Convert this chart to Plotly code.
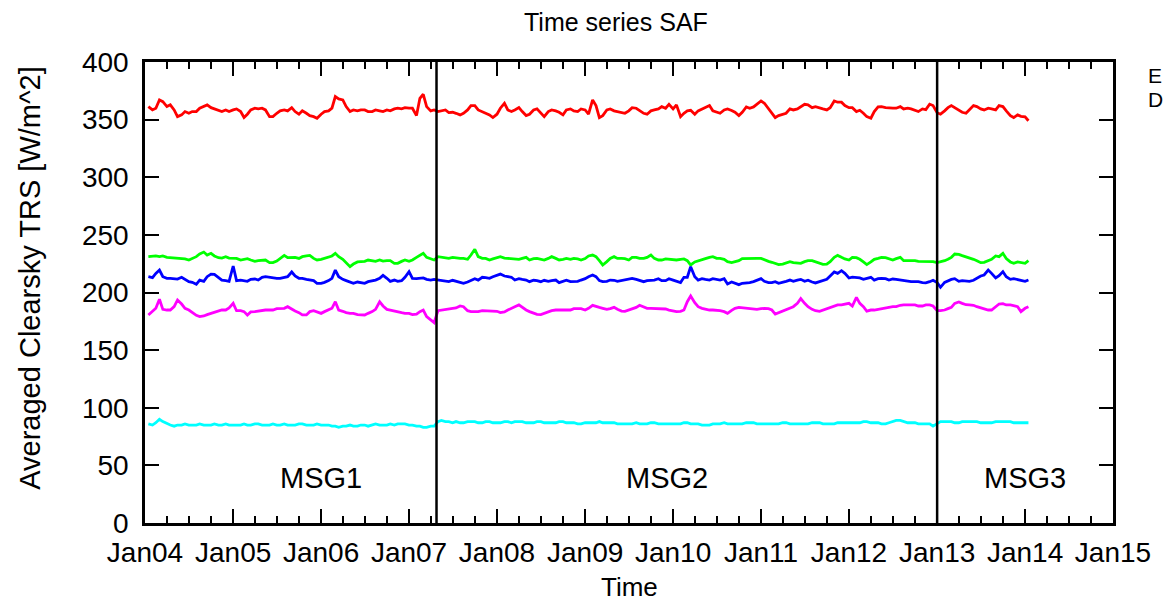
import plotly.graph_objects as go
import datetime as dt

# ---------------- data (semi-monthly samples, 1st/15th, starting 2004-01-15) -------------
red_vals = [
    361.3,358.4,359.9,367.1,365.6,361.3,362.8,358.4,352.6,354.1,357.0,355.5,357.0,357.0,359.9,361.3,362.8,360.4,359.3,357.6,357.0,358.4,357.0,358.4,
    359.3,357.0,351.8,354.7,358.4,359.9,359.3,359.9,358.4,352.6,352.6,355.5,357.6,358.4,357.6,360.4,357.0,354.7,357.6,355.5,353.5,352.6,351.2,354.7,
    357.0,357.6,359.9,370.0,368.0,367.1,361.3,357.0,358.4,357.6,358.4,358.4,357.0,357.0,358.4,357.6,357.0,358.4,357.6,359.3,359.9,359.3,360.4,359.9,
    359.9,353.5,368.5,372.0,361.3,357.6,358.4,357.0,357.6,358.4,356.1,356.4,355.5,354.1,355.5,358.4,362.2,362.2,358.4,357.0,356.1,354.1,351.8,354.7,
    359.9,364.2,358.4,357.0,358.4,360.4,357.0,353.5,354.7,358.4,359.3,355.5,352.6,357.0,358.4,357.6,356.4,354.1,358.4,359.3,357.6,357.0,359.3,358.4,
    354.7,367.1,362.2,351.8,353.5,358.4,359.3,357.6,357.0,356.1,355.5,357.6,360.4,359.9,357.6,355.5,354.7,357.6,358.4,359.3,361.3,359.9,363.3,359.3,
    362.8,352.6,355.5,357.6,358.1,354.7,357.6,359.3,360.4,362.2,357.6,356.4,355.5,358.4,359.3,357.9,356.4,353.5,356.4,361.0,359.9,361.0,363.3,366.2,
    364.2,359.9,355.5,351.8,353.5,354.7,355.5,359.3,358.4,359.3,361.3,363.3,362.8,360.4,361.3,359.9,359.3,358.4,360.4,366.2,365.1,365.1,362.2,360.4,
    360.4,357.0,358.1,355.5,352.6,351.2,357.0,361.0,361.3,360.4,359.9,359.9,359.9,361.3,359.3,359.9,359.3,358.1,357.0,359.3,358.7,363.3,362.2,356.0,
    354.7,357.6,360.4,362.2,360.4,357.6,356.4,355.5,358.4,362.2,361.3,359.3,358.4,359.9,359.3,358.4,362.2,361.3,357.6,353.5,351.8,354.1,352.9,352.4,
    349.0,
]
green_vals = [
    231.1,231.7,231.7,231.1,231.7,230.5,230.2,230.5,229.6,229.6,229.1,228.2,229.4,231.1,233.4,235.1,232.5,234.0,231.7,230.2,229.9,231.1,229.9,229.6,
    229.6,228.2,229.1,229.4,228.2,227.0,227.6,228.2,228.2,225.9,225.9,227.3,229.6,232.2,230.2,230.5,230.5,229.6,231.1,231.7,232.2,229.6,228.2,228.8,
    229.6,230.5,231.7,234.0,231.1,228.8,225.9,222.4,224.7,226.5,226.8,227.0,228.2,227.3,227.0,228.2,227.3,227.6,227.6,225.3,225.3,227.0,228.2,227.0,
    228.2,230.5,232.5,234.0,230.5,229.1,228.2,231.1,230.5,230.2,229.6,230.5,229.9,229.6,229.6,228.8,232.5,237.5,231.1,229.6,229.6,228.2,229.1,230.2,
    231.1,229.9,229.6,229.6,229.6,228.8,229.6,230.5,228.2,229.4,229.6,228.8,228.2,229.6,231.1,229.6,228.2,228.8,229.6,228.8,229.6,229.1,228.2,229.4,
    231.7,232.5,231.1,227.6,223.9,226.8,229.6,231.1,229.6,229.6,229.4,228.2,230.5,230.5,229.6,229.6,230.5,232.5,229.6,228.2,228.2,229.1,228.8,228.2,
    228.2,228.8,229.1,227.6,223.9,226.5,227.6,228.2,229.4,230.5,231.1,229.6,229.6,228.8,226.8,225.9,226.8,227.6,229.4,229.6,229.6,229.6,229.6,229.6,
    228.2,227.0,226.2,225.3,224.2,224.7,225.9,226.8,225.9,225.3,225.3,226.8,227.6,227.6,226.5,225.3,224.4,224.7,226.8,230.5,232.2,230.5,229.1,228.2,
    230.5,230.2,228.8,226.5,224.2,226.5,228.8,229.6,230.5,230.2,229.4,228.2,229.4,230.5,227.6,227.6,228.2,227.6,227.0,226.8,226.8,226.8,226.8,225.9,
    226.5,227.6,228.8,230.5,233.4,233.1,232.0,231.1,229.9,228.8,227.6,225.9,226.2,227.6,228.8,231.7,231.1,234.0,229.4,226.5,225.3,226.5,226.2,225.3,
    227.6,
]
blue_vals = [
    213.7,212.9,216.6,219.5,213.7,212.3,212.3,212.0,211.7,213.2,211.4,209.4,208.8,207.1,210.8,209.7,213.7,216.0,215.8,213.2,210.8,210.3,209.7,223.0,
    210.3,210.8,210.3,209.7,211.4,211.7,210.8,213.2,213.7,213.2,212.3,212.3,212.3,212.9,213.7,217.8,214.3,212.3,212.3,211.4,210.8,210.3,208.0,208.0,
    208.8,210.3,212.3,219.5,213.7,211.4,210.3,209.1,208.0,209.1,208.6,208.0,209.4,210.0,210.8,212.3,214.9,212.3,209.7,210.8,209.7,210.3,213.2,218.1,
    212.3,212.0,212.3,212.6,211.4,210.8,211.4,210.8,210.3,209.4,209.4,210.6,209.7,208.6,208.0,209.1,210.8,212.0,210.8,213.2,212.9,212.3,213.7,214.9,
    216.0,214.3,213.7,213.2,210.8,212.0,211.4,210.8,209.4,210.6,210.3,209.4,210.6,209.7,210.3,210.8,208.6,209.4,210.6,209.4,209.4,209.7,210.8,212.0,
    213.7,215.2,213.7,210.3,209.4,209.7,210.8,210.6,209.7,210.3,210.8,212.0,212.3,211.4,210.3,209.4,210.3,210.8,210.8,212.0,210.3,210.3,212.0,210.8,
    209.7,208.6,213.2,213.2,222.4,213.7,210.8,212.0,211.4,210.8,212.0,211.4,210.8,212.0,207.4,209.1,208.0,206.8,208.0,208.0,208.6,209.4,210.8,212.0,
    209.7,208.6,208.6,209.4,208.0,208.6,209.7,210.8,209.7,210.8,211.4,209.7,210.6,209.1,208.3,209.4,210.3,211.4,214.3,217.8,216.6,218.9,216.6,212.6,
    213.4,213.2,212.6,211.4,212.3,213.2,210.8,212.0,212.3,212.0,210.8,211.7,211.4,210.8,210.8,210.0,209.4,209.4,209.4,208.6,208.3,209.4,210.6,208.6,
    204.5,208.8,210.3,211.4,212.0,209.7,210.3,210.3,209.7,210.6,212.3,214.3,215.2,219.5,216.6,212.6,214.6,218.1,213.7,211.4,212.0,211.4,210.3,209.7,
    210.8,
]
magenta_vals = [
    180.5,183.4,186.3,194.1,185.4,184.8,184.8,187.7,193.5,190.0,186.3,184.8,182.5,180.2,179.1,179.6,180.8,181.9,183.1,183.9,184.8,184.8,186.6,190.6,
    184.2,184.2,183.4,180.5,183.1,183.4,183.9,184.8,184.8,184.8,184.8,186.0,186.3,186.3,187.7,185.4,183.9,182.5,180.5,180.5,183.4,184.2,183.4,181.9,
    183.4,184.8,186.3,192.0,184.8,183.7,182.5,181.9,181.9,180.8,180.5,180.5,181.9,183.4,185.4,192.0,188.3,185.4,184.8,184.2,183.4,182.5,181.9,181.9,
    180.8,181.3,183.4,184.8,179.1,176.2,173.8,184.2,184.8,185.4,186.0,186.3,186.6,188.3,187.7,184.2,183.4,183.4,183.4,184.2,184.2,183.7,184.2,183.7,
    182.5,183.1,184.8,186.0,187.7,189.2,187.1,184.8,183.4,181.9,181.0,180.8,181.9,183.1,184.2,184.8,184.8,184.8,184.8,184.8,186.0,186.3,186.0,184.8,
    186.3,188.9,188.3,187.1,186.3,185.4,186.0,187.1,185.4,183.9,183.7,184.8,186.0,187.1,188.9,187.7,186.3,186.3,186.3,186.3,186.3,185.7,184.8,183.7,
    183.4,183.7,184.8,192.0,197.0,191.2,187.7,186.3,185.4,184.8,184.8,184.8,184.2,183.4,181.9,184.5,186.3,187.1,186.8,186.3,186.3,186.3,185.4,186.0,
    186.3,186.0,184.8,181.3,182.5,183.9,184.8,186.0,187.7,190.6,194.7,190.6,187.7,185.4,184.2,183.7,184.8,186.0,187.1,188.0,189.2,189.2,189.7,190.6,
    188.3,195.8,190.6,187.7,183.9,184.8,184.8,185.4,186.3,186.3,187.1,187.7,187.7,188.9,189.2,189.2,189.2,189.2,188.3,188.3,189.2,189.2,188.3,184.2,
    184.2,184.8,186.0,187.1,190.6,191.8,190.6,189.4,189.2,188.9,187.7,186.6,185.4,184.8,184.8,187.7,190.0,190.3,189.2,189.2,188.6,187.7,183.4,186.3,
    187.7,
]
cyan_vals = [
    86,85,87,90,88,86,85,84,85,85,86,85,85,85,86,85,85,85,86,85,85,86,85,85,
    85,85,86,85,85,86,86,85,85,85,86,85,85,86,85,85,85,86,86,85,85,85,86,85,
    85,85,84,84,83,84,84,85,84,84,85,85,84,85,86,85,85,85,86,85,86,86,86,85,
    85,84,84,83,83,84,84,88,89,88,88,87,88,87,87,88,88,88,87,87,88,88,87,87,
    87,88,88,87,88,88,88,87,87,87,88,88,87,87,87,87,88,88,87,87,87,86,86,87,
    87,87,87,88,87,87,87,87,86,86,86,86,86,87,86,86,86,87,87,86,86,86,86,86,
    86,86,87,87,86,86,86,85,85,85,86,86,86,87,86,86,86,86,86,87,87,87,86,86,
    86,86,86,86,86,87,87,86,86,86,86,86,86,87,87,87,86,86,86,86,87,87,87,87,
    87,87,87,88,88,87,87,87,86,86,87,88,89,89,88,87,87,87,86,86,86,86,84,86,
    88,88,88,88,87,87,88,88,88,88,88,87,87,87,87,88,88,88,88,88,87,87,87,87,
    87,
]

msg_boundaries = ["2007-04-25", "2013-01-01"]
msg_labels = ["MSG1", "MSG2", "MSG3"]
msg_label_x = ["2006-01-01", "2009-12-05", "2014-01-01"]
legend_labels = ["E", "D"]

# semi-monthly dates (1st and 15th), beginning 2004-01-15
def semi_monthly(n):
    out = []
    y, m, d = 2004, 1, 15
    while len(out) < n:
        out.append(dt.date(y, m, d))
        if d == 1:
            d = 15
        else:
            d = 1
            m += 1
            if m > 12:
                m = 1
                y += 1
    return out

FONT = "Liberation Sans, Arial, Helvetica, sans-serif"
FS_TITLE = 25
FS_TICK = 28
FS_AXT = 29
FS_MSG = 29

fig = go.Figure()
series = [
    (red_vals, "#ff0000"),
    (green_vals, "#00ff00"),
    (blue_vals, "#0000ff"),
    (magenta_vals, "#ff00ff"),
    (cyan_vals, "#00ffff"),
]
for vals, col in series:
    fig.add_trace(go.Scatter(x=semi_monthly(len(vals)), y=vals, mode="lines",
                             line=dict(color=col, width=2.8), showlegend=False,
                             hoverinfo="skip"))

for b in msg_boundaries:
    fig.add_trace(go.Scatter(x=[b, b], y=[0, 400], mode="lines",
                             line=dict(color="black", width=2.5),
                             showlegend=False, hoverinfo="skip"))

annotations = []
for lab, x in zip(msg_labels, msg_label_x):
    annotations.append(dict(x=x, y=39, xref="x", yref="y", text=lab,
                            showarrow=False, font=dict(size=FS_MSG, color="black"),
                            xanchor="center", yanchor="middle"))
annotations += [
    dict(x=0.5 - 13/970, y=1 + 40/461, xref="paper", yref="paper",
         text="Time series SAF", showarrow=False,
         font=dict(size=FS_TITLE, color="black"), xanchor="center", yanchor="middle"),
    dict(x=0.5, y=-64/461, xref="paper", yref="paper", text="Time",
         showarrow=False, font=dict(size=26, color="black"),
         xanchor="center", yanchor="middle"),
    dict(x=-116/970, y=(523 - 277.5)/461, xref="paper", yref="paper",
         text="Averaged Clearsky TRS [W/m^2]", textangle=-90,
         showarrow=False, font=dict(size=FS_AXT, color="black"),
         xanchor="center", yanchor="middle"),
]
for i, t in enumerate(legend_labels):
    annotations.append(dict(x=1 + 33/970, y=(523 - 75 - 24.5*i)/461,
                            xref="paper", yref="paper", text=t,
                            showarrow=False, font=dict(size=21, color="black"),
                            xanchor="left", yanchor="middle"))

fig.update_layout(
    width=1163, height=603,
    margin=dict(l=145, r=48, t=62, b=80),
    paper_bgcolor="white", plot_bgcolor="white",
    font=dict(family=FONT, size=FS_TICK, color="black"),
    annotations=annotations,
    xaxis=dict(type="date", range=["2004-01-01", "2015-01-01"],
               dtick="M12", tick0="2004-01-01", tickformat="%b%y",
               ticks="inside", ticklen=14, tickwidth=2, tickcolor="black",
               showline=True, linecolor="black", linewidth=2.5, mirror="ticks",
               showgrid=False, zeroline=False,
               ticklabelstandoff=3,
               minor=dict(dtick="M3", tick0="2004-01-01", ticks="inside",
                          ticklen=7, tickwidth=2, tickcolor="black",
                          showgrid=False),
               tickfont=dict(size=FS_TICK)),
    yaxis=dict(range=[0, 400], dtick=50, ticks="inside", ticklen=14,
               tickwidth=2, tickcolor="black",
               showline=True, linecolor="black", linewidth=2.5, mirror="ticks",
               showgrid=False, zeroline=False, ticklabelstandoff=8,
               tickfont=dict(size=FS_TICK)),
)

fig.write_html("out.html")
